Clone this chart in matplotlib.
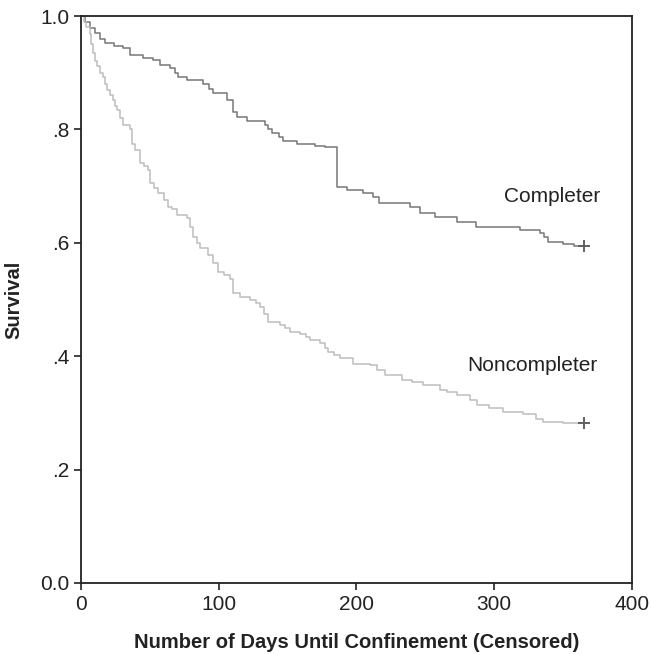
import matplotlib
matplotlib.use("Agg")
import matplotlib.pyplot as plt

plt.rcParams['font.family'] = ['Liberation Sans', 'DejaVu Sans']

# Kaplan-Meier step data (day, survival after the step)
completer_days = [0, 3, 6.5, 10, 14, 17.4, 24, 30.7, 35.6, 45, 52.5, 57.4, 64.6, 68, 70.6,
                  77, 88.8, 93, 96, 105.8, 110.6, 113, 120.3, 133.6, 136, 138.4, 144, 146.9,
                  156.6, 170, 177, 185.6, 193, 205, 212, 216, 239, 246, 257, 272.7, 287,
                  318.7, 333, 336, 339, 350, 358, 365]
completer_surv = [1.0, 0.99, 0.978, 0.97, 0.96, 0.952, 0.947, 0.943, 0.931, 0.926, 0.922, 0.914,
                  0.908, 0.900, 0.893, 0.888, 0.880, 0.872, 0.864, 0.852, 0.830, 0.822, 0.814,
                  0.808, 0.800, 0.794, 0.786, 0.780, 0.774, 0.771, 0.769, 0.699, 0.693, 0.688,
                  0.681, 0.670, 0.664, 0.652, 0.646, 0.637, 0.628, 0.623, 0.617, 0.610, 0.602,
                  0.598, 0.595, 0.595]

noncompleter_days = [0, 2, 4, 6.5, 7.5, 8.9, 10, 11.4, 14, 16.2, 17.5, 18.6, 21, 23.5, 25, 25.9,
                     28, 30.7, 35.6, 36.8, 39, 42.8, 46, 48.9, 50, 53, 56, 60, 63.4, 66, 69.5,
                     76.7, 79, 81.5, 84, 86.4, 92.4, 96, 99.7, 104, 108.2, 110.6, 115.4, 122.7,
                     127, 130, 133, 136, 144.5, 148, 151.7, 159, 163, 166, 173.5, 177, 179.5,
                     184, 188, 197.7, 209.8, 215, 220.7, 232.8, 240, 248.5, 260.6, 266, 272.7,
                     282.4, 287.3, 296, 306.6, 321, 330, 335.6, 350, 365]
noncompleter_surv = [1.0, 0.99, 0.98, 0.969, 0.95, 0.934, 0.92, 0.911, 0.90, 0.893, 0.88, 0.869,
                     0.86, 0.852, 0.842, 0.834, 0.82, 0.808, 0.800, 0.775, 0.764, 0.740, 0.735,
                     0.728, 0.705, 0.697, 0.687, 0.676, 0.664, 0.660, 0.649, 0.643, 0.628, 0.611,
                     0.600, 0.590, 0.578, 0.565, 0.549, 0.543, 0.537, 0.511, 0.504, 0.499, 0.494,
                     0.487, 0.475, 0.461, 0.455, 0.449, 0.443, 0.439, 0.434, 0.429, 0.423, 0.415,
                     0.408, 0.402, 0.396, 0.387, 0.384, 0.375, 0.367, 0.358, 0.354, 0.349, 0.340,
                     0.336, 0.332, 0.323, 0.314, 0.308, 0.302, 0.298, 0.290, 0.284, 0.282, 0.282]

y_ticks = [0.0, 0.2, 0.4, 0.6, 0.8, 1.0]
y_tick_labels = ['0.0', '.2', '.4', '.6', '.8', '1.0']
x_ticks = [0, 100, 200, 300, 400]

fig = plt.figure(figsize=(6.51, 6.54), dpi=100)
ax = fig.add_axes([0.1244, 0.1086, 0.8464, 0.8669])

ax.plot(completer_days, completer_surv, drawstyle='steps-post', color='#767676', lw=1.1)
ax.plot(noncompleter_days, noncompleter_surv, drawstyle='steps-post', color='#bdbdbd', lw=1.1)

# censoring marks at the end of follow-up
ax.plot(completer_days[-1], completer_surv[-1], marker='+', color='#606060', ms=9, mew=1.4)
ax.plot(noncompleter_days[-1], noncompleter_surv[-1], marker='+', color='#606060', ms=9, mew=1.4)

ax.text(342, 0.681, 'Completer', fontsize=15, ha='center', va='center', color='#222222')
ax.text(327.5, 0.383, 'Noncompleter', fontsize=15, ha='center', va='center', color='#222222')

ax.set_xlim(0, 400)
ax.set_ylim(0, 1.0)
ax.set_xticks(x_ticks)
ax.set_yticks(y_ticks)
ax.set_yticklabels(y_tick_labels)
ax.tick_params(direction='out', length=5, width=1.2, labelsize=15, colors='#222222')
for s in ax.spines.values():
    s.set_linewidth(1.3)
    s.set_color('#222222')

ax.set_xlabel('Number of Days Until Confinement (Censored)', fontsize=14.5, fontweight='bold',
              color='#222222', labelpad=14)
ax.set_ylabel('Survival', fontsize=14.5, fontweight='bold', color='#222222')
ax.yaxis.set_label_coords(-0.105, 0.5)

fig.savefig('out.png', dpi=100)
